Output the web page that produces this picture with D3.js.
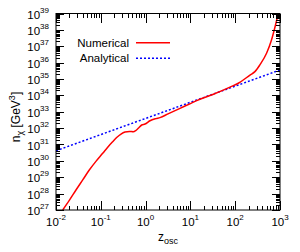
<!DOCTYPE html>
<html>
<head>
<meta charset="utf-8">
<script src="https://d3js.org/d3.v7.min.js"></script>
<style>
  body { margin: 0; background: #fff; }
  svg { display: block; font-family: "Liberation Sans", Arial, sans-serif; }
</style>
</head>
<body>
<svg id="chart" width="300" height="252"></svg>
<script>
// numerical solution, log10 values
const numLogZ = [-1.85, -1.70, -1.554, -1.40, -1.257, -1.10, -0.958, -0.85, -0.734, -0.64, -0.549, -0.46, -0.36, -0.275, -0.22, -0.163, -0.087, -0.013, 0.098, 0.232, 0.321, 0.5, 0.768, 1.0, 1.14, 1.5, 1.884, 2.07, 2.33, 2.44, 2.55, 2.70, 2.81, 2.89, 2.96];
const numLogN = [27.0, 27.6, 28.22, 28.85, 29.44, 30.0, 30.46, 30.82, 31.17, 31.44, 31.64, 31.76, 31.8, 31.78, 31.85, 31.99, 32.19, 32.25, 32.45, 32.58, 32.64, 32.87, 33.21, 33.5, 33.68, 34.05, 34.5, 34.74, 35.24, 35.45, 35.86, 36.57, 37.38, 38.19, 39.0];

// analytical power law
const anaLogZ = [-2, 3];
const anaLogN = [30.62, 35.55];

const xDecades = [-2, -1, 0, 1, 2, 3];
const yDecades = [27, 28, 29, 30, 31, 32, 33, 34, 35, 36, 37, 38, 39];

const legendLabels = ["Numerical", "Analytical"];

const m = { left: 56, right: 280, top: 13.5, bottom: 210 };

const svg = d3.select("#chart");

const x = d3.scaleLog().domain([1e-2, 1e3]).range([m.left, m.right]);
const y = d3.scaleLog().domain([1e27, 1e39]).range([m.bottom, m.top]);

const numerical = numLogZ.map((z, i) => ({ z: Math.pow(10, z), n: Math.pow(10, numLogN[i]) }));
const analytical = anaLogZ.map((z, i) => ({ z: Math.pow(10, z), n: Math.pow(10, anaLogN[i]) }));

svg.append("clipPath").attr("id", "clip")
  .append("rect")
  .attr("x", m.left).attr("y", m.top)
  .attr("width", m.right - m.left).attr("height", m.bottom - m.top);

const line = d3.line()
  .x((d) => x(d.z))
  .y((d) => y(d.n))
  .curve(d3.curveMonotoneX);

const plot = svg.append("g").attr("clip-path", "url(#clip)");

plot.append("path")
  .datum(analytical)
  .attr("fill", "none")
  .attr("stroke", "#0000ff")
  .attr("stroke-width", 1.5)
  .attr("stroke-dasharray", "2,2")
  .attr("d", line);

plot.append("path")
  .datum(numerical)
  .attr("fill", "none")
  .attr("stroke", "#ff0000")
  .attr("stroke-width", 1.5)
  .attr("d", line);

// ticks (inward, all four sides)
const ticks = svg.append("g").attr("stroke", "#000").attr("stroke-width", 1)
  .attr("shape-rendering", "crispEdges");

xDecades.forEach((k) => {
  for (let j = 1; j <= 9; j++) {
    const v = j * Math.pow(10, k);
    if (v > 1e3 * 1.0001) break;
    const px = Math.round(x(v)) + 0.5;
    const len = j === 1 ? 9 : 4.5;
    ticks.append("line").attr("x1", px).attr("x2", px).attr("y1", m.bottom).attr("y2", m.bottom - len);
    ticks.append("line").attr("x1", px).attr("x2", px).attr("y1", m.top).attr("y2", m.top + len);
  }
});

yDecades.forEach((k) => {
  for (let j = 1; j <= 9; j++) {
    const v = j * Math.pow(10, k);
    if (v > 1e39 * 1.0001) break;
    const py = Math.round(y(v)) + 0.5;
    const len = j === 1 ? 8 : 4;
    ticks.append("line").attr("y1", py).attr("y2", py).attr("x1", m.left).attr("x2", m.left + len);
    ticks.append("line").attr("y1", py).attr("y2", py).attr("x1", m.right).attr("x2", m.right - len);
  }
});

// frame
svg.append("rect")
  .attr("x", m.left).attr("y", m.top)
  .attr("width", m.right - m.left).attr("height", m.bottom - m.top)
  .attr("fill", "none").attr("stroke", "#000").attr("stroke-width", 1);

// tick labels
xDecades.forEach((k) => {
  const t = svg.append("text")
    .attr("x", x(Math.pow(10, k)))
    .attr("y", 226)
    .attr("text-anchor", "middle")
    .attr("font-size", 11.5);
  t.append("tspan").text("10");
  t.append("tspan").attr("dy", -6).attr("font-size", 8).text(k);
});

yDecades.forEach((k) => {
  const t = svg.append("text")
    .attr("x", 49)
    .attr("y", y(Math.pow(10, k)) + 5)
    .attr("text-anchor", "end")
    .attr("font-size", 11.5);
  t.append("tspan").text("10");
  t.append("tspan").attr("dy", -6).attr("font-size", 8).text(k);
});

// axis labels
const xl = svg.append("text")
  .attr("x", (m.left + m.right) / 2)
  .attr("y", 241)
  .attr("text-anchor", "middle")
  .attr("font-size", 12);
xl.append("tspan").text("z");
xl.append("tspan").attr("dy", 3).attr("font-size", 9).text("osc");

const yl = svg.append("text")
  .attr("transform", "translate(20,117) rotate(-90)")
  .attr("text-anchor", "middle")
  .attr("font-size", 12);
yl.append("tspan").text("n");
yl.append("tspan").attr("dy", 3).attr("font-size", 9).text("χ");
yl.append("tspan").attr("dy", -3).text(" [GeV");
yl.append("tspan").attr("dy", -5).attr("font-size", 9).text("3");
yl.append("tspan").attr("dy", 5).text("]");

// legend
const legend = svg.append("g");
const legendColors = ["#ff0000", "#0000ff"];
const legendDash = [null, "2,2"];
legendLabels.forEach((lab, i) => {
  const ly = 42.7 + i * 15.5;
  legend.append("text")
    .attr("x", 129)
    .attr("y", ly + 4)
    .attr("text-anchor", "end")
    .attr("font-size", 11.5)
    .text(lab);
  legend.append("line")
    .attr("x1", 136).attr("x2", 170)
    .attr("y1", ly).attr("y2", ly)
    .attr("stroke", legendColors[i])
    .attr("stroke-width", 1.5)
    .attr("stroke-dasharray", legendDash[i]);
});
</script>
</body>
</html>
